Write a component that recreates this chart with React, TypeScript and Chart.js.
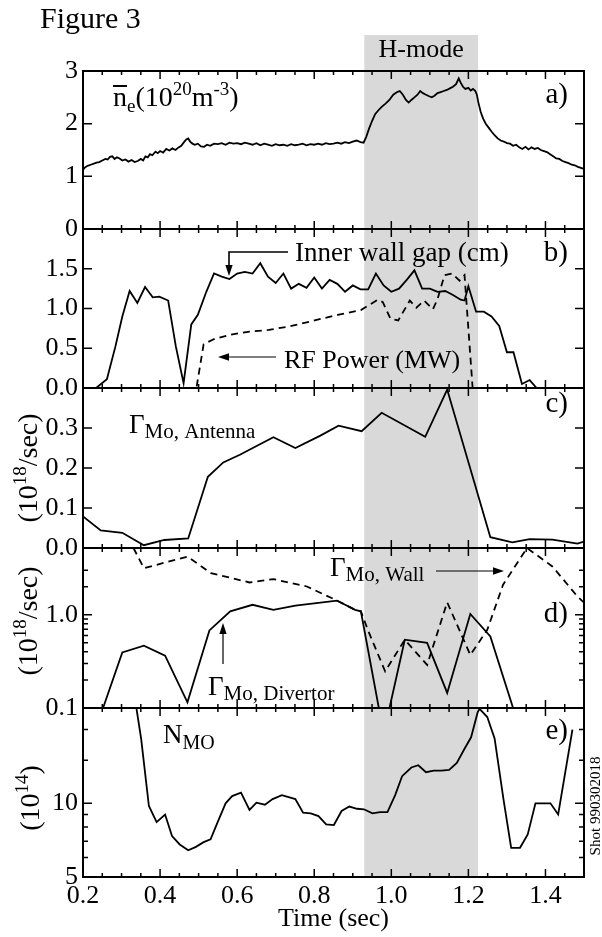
import React, { useEffect, useRef } from 'react';
import { Chart, registerables } from 'chart.js';

Chart.register(...registerables);

const FONT = "'Liberation Serif', 'Times New Roman', Times, serif";

// ---------------- data ----------------
const timeMin = 0.2;
const timeMax = 1.5;
const timeTicks = [0.2, 0.4, 0.6, 0.8, 1.0, 1.2, 1.4];
const hModeStart = 0.93;
const hModeEnd = 1.225;

// a) line averaged density (1e20 m^-3)
const densityPoints: [number, number][] = [
  [0.200, 1.12], [0.205, 1.17], [0.212, 1.20], [0.220, 1.22], [0.228, 1.24], [0.235, 1.26], [0.242, 1.27],
  [0.250, 1.30], [0.258, 1.33], [0.264, 1.32], [0.270, 1.37], [0.276, 1.38], [0.282, 1.33], [0.288, 1.36],
  [0.295, 1.34], [0.302, 1.30], [0.310, 1.32], [0.318, 1.28], [0.326, 1.31], [0.334, 1.27], [0.342, 1.29],
  [0.350, 1.33], [0.356, 1.30], [0.362, 1.38], [0.368, 1.36], [0.374, 1.42], [0.380, 1.40], [0.388, 1.47],
  [0.394, 1.44], [0.400, 1.48], [0.408, 1.45], [0.416, 1.52], [0.424, 1.49], [0.432, 1.53], [0.440, 1.50],
  [0.448, 1.55], [0.455, 1.58], [0.462, 1.65], [0.468, 1.70], [0.473, 1.72], [0.478, 1.66], [0.484, 1.62],
  [0.490, 1.60], [0.498, 1.62], [0.506, 1.57], [0.514, 1.56], [0.522, 1.60], [0.530, 1.58], [0.540, 1.62],
  [0.550, 1.61], [0.560, 1.63], [0.570, 1.60], [0.580, 1.64], [0.590, 1.62], [0.600, 1.63], [0.610, 1.61],
  [0.620, 1.64], [0.630, 1.62], [0.640, 1.60], [0.650, 1.63], [0.660, 1.59], [0.670, 1.62], [0.680, 1.60],
  [0.690, 1.58], [0.700, 1.61], [0.710, 1.59], [0.720, 1.60], [0.730, 1.58], [0.740, 1.61], [0.750, 1.59],
  [0.760, 1.60], [0.770, 1.62], [0.780, 1.59], [0.790, 1.61], [0.800, 1.60], [0.810, 1.62], [0.820, 1.60],
  [0.830, 1.63], [0.840, 1.61], [0.850, 1.62], [0.860, 1.64], [0.870, 1.62], [0.880, 1.65], [0.890, 1.63],
  [0.900, 1.66], [0.910, 1.68], [0.920, 1.65], [0.928, 1.64], [0.935, 1.75], [0.942, 1.90], [0.950, 2.05],
  [0.958, 2.18], [0.966, 2.25], [0.975, 2.32], [0.985, 2.38], [0.995, 2.45], [1.005, 2.55], [1.015, 2.60],
  [1.022, 2.62], [1.030, 2.55], [1.038, 2.45], [1.045, 2.40], [1.052, 2.45], [1.060, 2.50], [1.068, 2.55],
  [1.075, 2.62], [1.082, 2.58], [1.090, 2.55], [1.098, 2.52], [1.105, 2.50], [1.112, 2.53], [1.120, 2.58],
  [1.128, 2.60], [1.136, 2.62], [1.144, 2.64], [1.152, 2.67], [1.160, 2.70], [1.168, 2.75], [1.175, 2.86],
  [1.180, 2.78], [1.186, 2.70], [1.192, 2.66], [1.200, 2.68], [1.206, 2.63], [1.212, 2.66], [1.218, 2.62],
  [1.222, 2.55], [1.226, 2.40], [1.232, 2.22], [1.238, 2.10], [1.245, 2.00], [1.252, 1.93], [1.260, 1.85],
  [1.268, 1.78], [1.276, 1.72], [1.284, 1.68], [1.292, 1.66], [1.300, 1.63], [1.308, 1.62], [1.316, 1.58],
  [1.324, 1.60], [1.332, 1.55], [1.340, 1.52], [1.348, 1.56], [1.356, 1.51], [1.364, 1.55], [1.372, 1.52],
  [1.380, 1.54], [1.388, 1.50], [1.396, 1.48], [1.404, 1.46], [1.412, 1.42], [1.420, 1.38], [1.428, 1.34],
  [1.436, 1.33], [1.444, 1.29], [1.452, 1.27], [1.460, 1.25], [1.468, 1.22], [1.476, 1.21], [1.484, 1.18],
  [1.492, 1.16], [1.500, 1.14],
];

// b) inner wall gap (cm) and RF power (MW)
const wallGapPoints: [number, number][] = [
  [0.20, 0], [0.234, 0], [0.262, 0.11], [0.284, 0.52], [0.302, 0.90], [0.321, 1.22], [0.341, 1.07],
  [0.361, 1.27], [0.381, 1.14], [0.398, 1.15], [0.421, 1.10], [0.441, 0.52], [0.461, 0.06], [0.481, 0.80],
  [0.498, 0.92], [0.52, 1.21], [0.54, 1.44], [0.56, 1.40], [0.58, 1.37], [0.60, 1.44], [0.62, 1.46],
  [0.64, 1.44], [0.66, 1.57], [0.68, 1.40], [0.70, 1.32], [0.72, 1.44], [0.74, 1.25], [0.76, 1.31],
  [0.78, 1.26], [0.80, 1.39], [0.82, 1.25], [0.84, 1.36], [0.86, 1.31], [0.88, 1.21], [0.90, 1.29],
  [0.92, 1.24], [0.94, 1.24], [0.96, 1.44], [0.98, 1.29], [1.00, 1.21], [1.02, 1.25], [1.04, 1.36],
  [1.06, 1.48], [1.08, 1.25], [1.10, 1.25], [1.12, 1.21], [1.14, 1.22], [1.16, 1.17], [1.18, 1.11],
  [1.19, 1.10], [1.20, 1.28], [1.22, 0.96], [1.24, 0.96], [1.26, 0.90], [1.28, 0.78], [1.30, 0.45],
  [1.317, 0.45], [1.339, 0.05], [1.359, 0.10], [1.377, 0], [1.50, 0],
];
const rfPowerPoints: [number, number][] = [
  [0.495, 0.02], [0.513, 0.55], [0.542, 0.62], [0.582, 0.67], [0.632, 0.71], [0.682, 0.73], [0.741, 0.78],
  [0.801, 0.85], [0.861, 0.92], [0.921, 0.98], [0.965, 1.11], [0.978, 1.08], [0.998, 0.87], [1.018, 0.85],
  [1.048, 1.10], [1.065, 1.01], [1.085, 1.10], [1.108, 0.99], [1.12, 1.12], [1.138, 1.42], [1.158, 1.44],
  [1.177, 1.35], [1.19, 1.42], [1.211, 0],
];

// c) Mo source at antenna (1e18/sec)
const antennaPoints: [number, number][] = [
  [0.2, 0.079], [0.246, 0.044], [0.302, 0.038], [0.358, 0.007], [0.411, 0.020], [0.473, 0.024],
  [0.524, 0.178], [0.564, 0.214], [0.607, 0.233], [0.694, 0.277], [0.751, 0.25], [0.816, 0.281],
  [0.863, 0.306], [0.923, 0.292], [0.975, 0.338], [1.088, 0.278], [1.145, 0.396], [1.257, 0.027],
  [1.314, 0.014], [1.359, 0.022], [1.418, 0.021], [1.483, 0.011], [1.5, 0.016],
];

// d) Mo sources at divertor and wall (1e18/sec, log)
const divertorPoints: [number, number][] = [
  [0.252, 0.1], [0.302, 0.395], [0.358, 0.466], [0.413, 0.364], [0.471, 0.115], [0.528, 0.68],
  [0.582, 1.09], [0.64, 1.28], [0.694, 1.13], [0.751, 1.25], [0.859, 1.42], [0.906, 1.13], [0.921, 1.09],
  [0.972, 0.08], [0.99, 0.08], [1.035, 0.54], [1.093, 0.50], [1.145, 0.145], [1.205, 1.02],
  [1.257, 0.585], [1.316, 0.1],
];
const wallSourcePoints: [number, number][] = [
  [0.331, 5.2], [0.358, 3.16], [0.471, 4.2], [0.532, 2.8], [0.632, 2.22], [0.694, 2.41], [0.781, 2.01],
  [0.859, 1.42], [0.906, 1.13], [0.921, 1.09], [0.939, 0.69], [0.984, 0.247], [1.035, 0.54], [1.093, 0.29],
  [1.145, 1.36], [1.205, 0.37], [1.249, 0.69], [1.29, 2.1], [1.352, 5.2], [1.418, 3.3], [1.483, 1.57],
  [1.5, 1.35],
];

// e) Mo content (1e14, log)
const moContentPoints: [number, number][] = [
  [0.336, 26], [0.351, 18.3], [0.371, 9.75], [0.391, 8.38], [0.413, 9.0], [0.431, 7.35], [0.451, 6.79],
  [0.473, 6.43], [0.493, 6.64], [0.513, 6.94], [0.531, 7.12], [0.547, 8.2], [0.570, 10.0], [0.587, 10.7],
  [0.61, 11.06], [0.632, 9.39], [0.65, 10.06], [0.672, 9.87], [0.692, 10.4], [0.716, 10.8], [0.751, 10.4],
  [0.771, 9.15], [0.791, 9.1], [0.811, 8.87], [0.831, 8.2], [0.851, 8.15], [0.871, 9.3], [0.891, 9.7],
  [0.911, 9.5], [0.929, 9.45], [0.951, 9.1], [0.971, 9.2], [0.99, 9.2], [1.01, 10.8], [1.028, 12.9],
  [1.052, 14.0], [1.07, 14.3], [1.09, 13.4], [1.11, 13.6], [1.13, 13.6], [1.15, 13.7], [1.17, 14.6],
  [1.19, 16.7], [1.207, 18.6], [1.224, 23.5], [1.229, 24.3], [1.249, 22.5], [1.268, 18.4], [1.291, 10.4],
  [1.311, 6.58], [1.334, 6.58], [1.354, 7.46], [1.374, 10.0], [1.413, 10.0], [1.433, 9.0], [1.47, 20.0],
];

// axis ticks
const densityTicks = [0, 1, 2, 3];
const gapTicks = [0, 0.5, 1.0, 1.5, 2.0];
const antennaTicks = [0, 0.1, 0.2, 0.3, 0.4];
const sourceTicks = [0.1, 1];
const sourceMinorTicks = [0.2, 0.3, 0.4, 0.5, 0.6, 0.7, 0.8, 0.9, 2, 3];
const contentTicks = [5, 10];
const contentMinorTicks = [6, 7, 8, 9, 15, 20];

// ---------------- drawing helpers ----------------
type Seg = { t: string; s: number; dy?: number };

function rich(ctx: CanvasRenderingContext2D, segs: Seg[], x: number, y: number, align: 'left' | 'center' | 'right' = 'left') {
  const widths = segs.map((g) => {
    ctx.font = `${g.s}px ${FONT}`;
    return ctx.measureText(g.t).width;
  });
  const total = widths.reduce((a, b) => a + b, 0);
  let cx = align === 'center' ? x - total / 2 : align === 'right' ? x - total : x;
  const starts: number[] = [];
  ctx.textAlign = 'left';
  ctx.textBaseline = 'alphabetic';
  segs.forEach((g, i) => {
    ctx.font = `${g.s}px ${FONT}`;
    ctx.fillText(g.t, cx, y + (g.dy || 0));
    starts.push(cx);
    cx += widths[i];
  });
  return { starts, widths };
}

function arrowPath(ctx: CanvasRenderingContext2D, pts: [number, number][], head = 10, lw = 1.3) {
  ctx.save();
  ctx.strokeStyle = '#000';
  ctx.fillStyle = '#000';
  ctx.lineWidth = lw;
  const [ex, ey] = pts[pts.length - 1];
  const [px, py] = pts[pts.length - 2];
  const ang = Math.atan2(ey - py, ex - px);
  ctx.beginPath();
  ctx.moveTo(pts[0][0], pts[0][1]);
  for (let i = 1; i < pts.length - 1; i++) ctx.lineTo(pts[i][0], pts[i][1]);
  ctx.lineTo(ex - Math.cos(ang) * head * 0.8, ey - Math.sin(ang) * head * 0.8);
  ctx.stroke();
  ctx.beginPath();
  ctx.moveTo(ex, ey);
  ctx.lineTo(ex - head * Math.cos(ang) + (head * 0.33) * Math.sin(ang), ey - head * Math.sin(ang) - (head * 0.33) * Math.cos(ang));
  ctx.lineTo(ex - head * Math.cos(ang) - (head * 0.33) * Math.sin(ang), ey - head * Math.sin(ang) + (head * 0.33) * Math.cos(ang));
  ctx.closePath();
  ctx.fill();
  ctx.restore();
}

const panelIds = ['ya', 'yb', 'yc', 'yd', 'ye'];
const panelMajor: Record<string, number[]> = {
  ya: densityTicks, yb: gapTicks, yc: antennaTicks, yd: sourceTicks, ye: contentTicks,
};
const panelMinor: Record<string, number[]> = {
  ya: [], yb: [], yc: [], yd: sourceMinorTicks, ye: contentMinorTicks,
};

const decorPlugin = {
  id: 'decor',
  beforeDatasetsDraw(chart: any) {
    const { ctx, chartArea } = chart;
    const xs = chart.scales.x;
    const x1 = xs.getPixelForValue(hModeStart);
    const x2 = xs.getPixelForValue(hModeEnd);
    ctx.save();
    ctx.fillStyle = '#d9d9d9';
    ctx.fillRect(x1, 35, x2 - x1, chartArea.bottom - 35);
    ctx.fillStyle = '#000';
    ctx.font = `26px ${FONT}`;
    ctx.textAlign = 'center';
    ctx.textBaseline = 'alphabetic';
    ctx.fillText('H-mode', (x1 + x2) / 2, 57);
    ctx.restore();
  },
  afterDatasetsDraw(chart: any) {
    const { ctx, chartArea } = chart;
    const xs = chart.scales.x;
    const L = chartArea.left;
    const R = chartArea.right;
    ctx.save();
    ctx.strokeStyle = '#000';
    ctx.fillStyle = '#000';

    // frames
    ctx.lineWidth = 2;
    for (const id of panelIds) {
      const s = chart.scales[id];
      ctx.strokeRect(L, s.top, R - L, s.bottom - s.top);
    }

    // x ticks on every panel edge, pointing inwards
    ctx.lineWidth = 1.5;
    const xMinor: number[] = [];
    for (let v = 0.25; v < timeMax; v += 0.05) xMinor.push(Math.round(v * 100) / 100);
    const drawXTicks = (y: number, dir: number) => {
      for (const v of xMinor) {
        const major = Math.abs(v * 5 - Math.round(v * 5)) < 1e-6;
        const len = major ? 8 : 4;
        const px = xs.getPixelForValue(v);
        ctx.beginPath();
        ctx.moveTo(px, y);
        ctx.lineTo(px, y + dir * len);
        ctx.stroke();
      }
    };
    for (const id of panelIds) {
      const s = chart.scales[id];
      drawXTicks(s.top, 1);
      drawXTicks(s.bottom, -1);
    }

    // y ticks, both sides
    for (const id of panelIds) {
      const s = chart.scales[id];
      const draw = (v: number, len: number) => {
        const py = s.getPixelForValue(v);
        if (py < s.top + 1 || py > s.bottom - 1) return;
        ctx.beginPath();
        ctx.moveTo(L, py);
        ctx.lineTo(L + len, py);
        ctx.moveTo(R, py);
        ctx.lineTo(R - len, py);
        ctx.stroke();
      };
      panelMajor[id].forEach((v) => draw(v, 9));
      panelMinor[id].forEach((v) => draw(v, 5));
    }

    // panel letters
    const letterY = [103, 261, 412, 622, 739];
    ['a)', 'b)', 'c)', 'd)', 'e)'].forEach((t, i) => {
      ctx.font = `29px ${FONT}`;
      ctx.textAlign = 'right';
      ctx.textBaseline = 'alphabetic';
      ctx.fillText(t, 568, letterY[i]);
    });

    // Figure title
    ctx.font = `30px ${FONT}`;
    ctx.textAlign = 'left';
    ctx.fillText('Figure 3', 40, 28);

    // a) density label with overline
    const ne = rich(ctx, [
      { t: 'n', s: 28 }, { t: 'e', s: 19, dy: 6 }, { t: '(10', s: 28 }, { t: '20', s: 19, dy: -11 },
      { t: 'm', s: 28 }, { t: '-3', s: 19, dy: -11 }, { t: ')', s: 28 },
    ], 113, 106);
    ctx.lineWidth = 2;
    ctx.beginPath();
    ctx.moveTo(ne.starts[0], 86);
    ctx.lineTo(ne.starts[0] + ne.widths[0], 86);
    ctx.stroke();

    // b) labels
    rich(ctx, [{ t: 'Inner wall gap (cm)', s: 27 }], 295, 261);
    arrowPath(ctx, [[288, 252], [229, 252], [229, 276]], 11, 1.6);
    rich(ctx, [{ t: 'RF Power (MW)', s: 26 }], 284, 368);
    arrowPath(ctx, [[276, 357], [218, 357]], 11, 1.2);

    // c) label
    rich(ctx, [{ t: 'Γ', s: 27 }, { t: 'Mo, Antenna', s: 21, dy: 5 }], 129, 433);

    // d) labels
    rich(ctx, [{ t: 'Γ', s: 27 }, { t: 'Mo, Wall', s: 21, dy: 5 }], 330, 576);
    arrowPath(ctx, [[436, 571], [504, 571]], 11, 1.2);
    rich(ctx, [{ t: 'Γ', s: 27 }, { t: 'Mo, Divertor', s: 21, dy: 5 }], 208, 695);
    arrowPath(ctx, [[223, 664], [223, 623]], 11, 1.2);

    // e) label
    rich(ctx, [{ t: 'N', s: 27 }, { t: 'MO', s: 20, dy: 6 }], 163, 743);

    // rotated y titles
    const rotated = (cx: number, cy: number, segs: Seg[], off: number) => {
      ctx.save();
      ctx.translate(cx, cy);
      ctx.rotate(-Math.PI / 2);
      rich(ctx, segs, 0, off, 'center');
      ctx.restore();
    };
    const fluxTitle: Seg[] = [{ t: '(10', s: 28 }, { t: '18', s: 19, dy: -11 }, { t: '/sec)', s: 28 }];
    rotated(27, 468, fluxTitle, 10);
    rotated(27, 621, fluxTitle, 10);
    rotated(29, 798, [{ t: '(10', s: 28 }, { t: '14', s: 19, dy: -11 }, { t: ')', s: 28 }], 10);
    rotated(595, 806, [{ t: 'Shot 990302018', s: 15 }], 5);

    ctx.restore();
  },
};

function yAxis(type: 'linear' | 'logarithmic', min: number, max: number, ticks: number[], weight: number, fmt: (v: number) => string) {
  return {
    type,
    min,
    max,
    position: 'left',
    stack: 'panels',
    stackWeight: weight,
    grid: { display: false, drawTicks: false },
    border: { display: false },
    ticks: {
      color: '#000',
      font: { family: FONT, size: 26 },
      padding: 5,
      autoSkip: false,
      callback: (v: number) => fmt(Number(v)),
    },
    afterBuildTicks: (s: any) => {
      s.ticks = ticks.map((v) => ({ value: v }));
    },
    afterFit: (s: any) => {
      s.width = 83;
    },
  };
}

const toXY = (pts: [number, number][]) => pts.map(([x, y]) => ({ x, y }));

export default function App() {
  const ref = useRef<HTMLCanvasElement>(null);

  useEffect(() => {
    const canvas = ref.current;
    if (!canvas) return;
    const line = (pts: [number, number][], yAxisID: string, dash: number[] = []) => ({
      data: toXY(pts),
      xAxisID: 'x',
      yAxisID,
      borderColor: '#000',
      borderWidth: 1.8,
      borderDash: dash,
      pointRadius: 0,
      tension: 0,
      fill: false,
    });
    const chart = new Chart(canvas, {
      type: 'line',
      data: {
        datasets: [
          line(densityPoints, 'ya'),
          line(wallGapPoints, 'yb'),
          line(rfPowerPoints, 'yb', [7, 5]),
          line(antennaPoints, 'yc'),
          line(divertorPoints, 'yd'),
          line(wallSourcePoints, 'yd', [7, 5]),
          line(moContentPoints, 'ye'),
        ] as any,
      },
      options: {
        responsive: false,
        maintainAspectRatio: false,
        animation: false,
        devicePixelRatio: 1,
        events: [],
        layout: { padding: { left: 0, right: 18, top: 71, bottom: 0 } },
        plugins: { legend: { display: false }, tooltip: { enabled: false } },
        scales: {
          x: {
            type: 'linear',
            min: timeMin,
            max: timeMax,
            position: 'bottom',
            grid: { display: false, drawTicks: false },
            border: { display: false },
            ticks: {
              color: '#000',
              font: { family: FONT, size: 26 },
              padding: 4,
              autoSkip: false,
              maxRotation: 0,
              callback: (v: number) => Number(v).toFixed(1),
            },
            afterBuildTicks: (s: any) => {
              s.ticks = timeTicks.map((v) => ({ value: v }));
            },
            afterFit: (s: any) => {
              s.height = 60;
            },
            title: {
              display: true,
              text: 'Time (sec)',
              color: '#000',
              font: { family: FONT, size: 26 },
              padding: { top: 0, bottom: 2 },
            },
          },
          ye: yAxis('logarithmic', 5, 24.5, contentTicks, 169, (v) => String(v)),
          yd: yAxis('logarithmic', 0.1, 5.2, sourceTicks, 160, (v) => v.toFixed(1)),
          yc: yAxis('linear', 0, 0.4, antennaTicks, 160, (v) => (v > 0.35 ? '' : v.toFixed(1))),
          yb: yAxis('linear', 0, 2, gapTicks, 159, (v) => (v > 1.9 ? '' : v.toFixed(1))),
          ya: yAxis('linear', 0, 3, densityTicks, 158, (v) => String(v)),
        } as any,
      },
      plugins: [decorPlugin],
    });
    return () => chart.destroy();
  }, []);

  return (
    <div style={{ position: 'fixed', left: 0, top: 0, width: 602, height: 937, background: '#fff' }}>
      <canvas ref={ref} width={602} height={937} style={{ display: 'block', width: 602, height: 937 }} />
    </div>
  );
}
